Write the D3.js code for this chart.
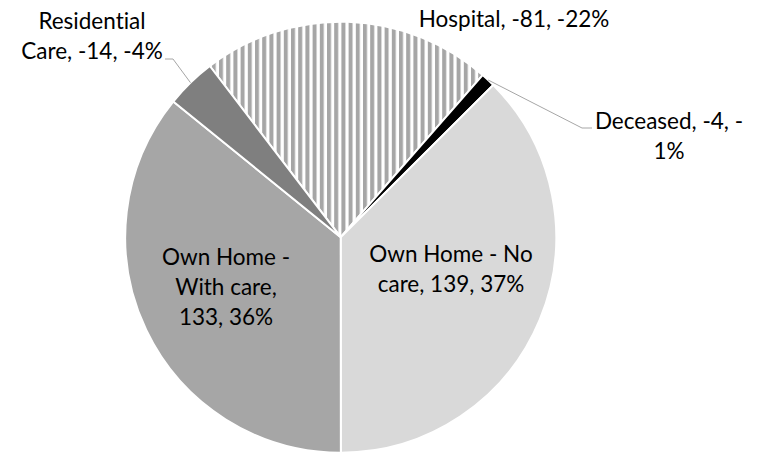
<!DOCTYPE html>
<html>
<head>
<meta charset="utf-8">
<script src="https://cdn.jsdelivr.net/npm/d3@7"></script>
<style>
  html, body { margin: 0; padding: 0; background: #fff; }
  svg { display: block; }
  text { font-family: Lato, "Open Sans", sans-serif; fill: #000; font-variant-ligatures: none; font-feature-settings: "liga" 0, "clig" 0; }
</style>
</head>
<body>
<svg id="chart" width="762" height="452"></svg>
<script>
// ---- data ----
const categories = ["Hospital", "Deceased", "Own Home - No care", "Own Home - With care", "Residential Care"];
const values = [-81, -4, 139, 133, -14];
// label line breaks as shown in the chart
const labelLines = [
  ["Hospital, -81, -22%"],
  ["Deceased, -4, -", "1%"],
  ["Own Home - No", "care, 139, 37%"],
  ["Own Home -", "With care,", "133, 36%"],
  ["Residential", "Care, -14, -4%"]
];

// ---- layout ----
const W = 762, H = 452;
const cx = 340.7, cy = 237.2, R = 215.5;
const startDeg = -37.4;
const fills = ["url(#stripes)", "#000000", "#d9d9d9", "#a6a6a6", "#7f7f7f"];
const fontSize = 22.5, lineH = 30;
// label anchor (center x, first baseline y) per slice
const labelPos = [
  [514, 27],
  [669, 129],
  [451, 262],
  [226, 265],
  [92, 29]
];
// leader lines: elbow point and end point
const leaders = {
  1: { elbow: [582, 128], end: [592, 128] },
  4: { elbow: [173, 59], end: [165, 59] }
};

const svg = d3.select("#chart");
const defs = svg.append("defs");
const pat = defs.append("pattern")
  .attr("id", "stripes")
  .attr("patternUnits", "userSpaceOnUse")
  .attr("x", 0.7).attr("y", 0)
  .attr("width", 7.2).attr("height", 10);
pat.append("rect").attr("width", 7.2).attr("height", 10).attr("fill", "#ffffff");
pat.append("rect").attr("x", 0).attr("width", 4).attr("height", 10).attr("fill", "#a6a6a6");

const pie = d3.pie()
  .sort(null)
  .value(d => Math.abs(d))
  .startAngle(startDeg * Math.PI / 180)
  .endAngle(startDeg * Math.PI / 180 + 2 * Math.PI);
const arcs = pie(values);
const arc = d3.arc().innerRadius(0).outerRadius(R);

const g = svg.append("g").attr("transform", `translate(${cx},${cy})`);
g.selectAll("path.slice")
  .data(arcs)
  .join("path")
  .attr("class", "slice")
  .attr("d", arc)
  .attr("fill", (d, i) => fills[i])
  .attr("stroke", "#ffffff")
  .attr("stroke-width", 2)
  .attr("stroke-linejoin", "round");

// leader lines
arcs.forEach((a, i) => {
  const L = leaders[i];
  if (!L) return;
  const mid = (a.startAngle + a.endAngle) / 2;
  const sx = cx + Math.sin(mid) * R, sy = cy - Math.cos(mid) * R;
  svg.append("polyline")
    .attr("points", [[sx, sy], L.elbow, L.end].map(p => p.join(",")).join(" "))
    .attr("fill", "none")
    .attr("stroke", "#a6a6a6")
    .attr("stroke-width", 1);
});

// labels
labelLines.forEach((lines, i) => {
  const [x, y] = labelPos[i];
  const t = svg.append("text")
    .attr("text-anchor", "middle")
    .attr("font-size", fontSize);
  lines.forEach((ln, k) => {
    t.append("tspan").attr("x", x).attr("y", y + k * lineH).text(ln);
  });
});
</script>
</body>
</html>
